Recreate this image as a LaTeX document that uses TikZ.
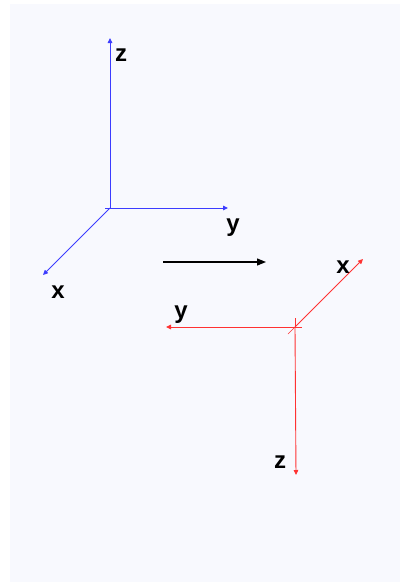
\documentclass[tikz,border=0pt]{standalone}
\usepackage{fontspec}
\setmainfont{Liberation Sans}
\usepackage{tikz}
\usetikzlibrary{arrows.meta, positioning}
\definecolor{bgpale}{RGB}{248, 249, 254}
\definecolor{axisblue}{RGB}{60, 60, 255}
\definecolor{axisred}{RGB}{255, 50, 50}

\begin{document}
\begin{tikzpicture}[
    x=1pt, y=-1pt,
    font=\fontsize{24}{28}\selectfont\bfseries,
    % Styles
    bluearrow/.style={-{Triangle[length=5pt, width=4.5pt]}, axisblue, line width=0.9pt},
    redarrow/.style={-{Triangle[length=5pt, width=4.5pt]}, axisred, line width=0.9pt},
    maparrow/.style={-{Triangle[length=9pt, width=7pt]}, black, line width=1.2pt},
    axlabel/.style={inner sep=0pt, anchor=base}
]
    \useasboundingbox (0,0) rectangle (400,582);
    \fill [bgpale] (10,4) rectangle (400,582);

    % Original frame
    \coordinate (bo) at (110,208);
    \coordinate (bz) at (110,38);
    \coordinate (by) at (228,208);
    \coordinate (bx) at (43,275);
    \draw [bluearrow] (bo) -- (bz);
    \draw [bluearrow] (bo) -- (by);
    \draw [bluearrow] (bo) -- (bx);
    \draw [axisblue, line width=0.9pt] (bo) -- ++(-5,0);
    \node (bzl) [axlabel] at (121,61) {z};
    \node (byl) [axlabel] at (233,231) {y};
    \node (bxl) [axlabel] at (58,298) {x};

    % Mapping
    \coordinate (ma) at (163,262);
    \coordinate (mb) at (266,262);
    \draw [maparrow] (ma) -- (mb);

    % Rotated frame
    \coordinate (ro) at (295,327);
    \coordinate (rx) at (363,259);
    \coordinate (ry) at (166,327);
    \coordinate (rz) at (296,475);
    \draw [redarrow] (ro) -- (rx);
    \draw [redarrow] (ro) -- (ry);
    \draw [redarrow] (ro) -- (rz);
    \draw [axisred, line width=0.9pt] (ro) -- ++(0,-9);
    \draw [axisred, line width=0.9pt] (ro) -- ++(7,0);
    \draw [axisred, line width=0.6pt] (ro) -- ++(-7,7);
    \node (rxl) [axlabel] at (343,273) {x};
    \node (ryl) [axlabel] at (181,318) {y};
    \node (rzl) [axlabel] at (280,468) {z};

\end{tikzpicture}
\end{document}
